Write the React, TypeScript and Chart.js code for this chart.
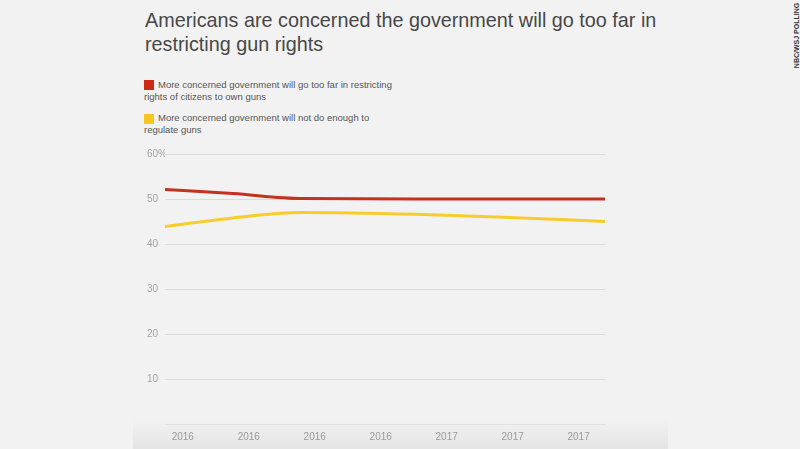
import React, { useEffect, useRef } from "react";
import { Chart, registerables } from "chart.js";

Chart.register(...registerables);

const titleLines = [
  "Americans are concerned the government will go too far in",
  "restricting gun rights",
];
const legendRed = ["More concerned government will go too far in restricting", "rights of citizens to own guns"];
const legendYellow = ["More concerned government will not do enough to", "regulate guns"];
const sourceText = "NBC/WSJ POLLING";

// x positions in label units (label i sits at i)
const pointX = [-0.27, 0.76, 1.81, 3.53, 4.94, 6.4];
const tooFarValues = [52.1, 51.2, 50.1, 50, 50, 50];
const notEnoughValues = [43.9, 45.8, 47.0, 46.6, 45.9, 45.0];
const xTickValues = [0, 1, 2, 3, 4, 5, 6];
const xTickLabels = ["2016", "2016", "2016", "2016", "2017", "2017", "2017"];
const yTickValues = [0, 10, 20, 30, 40, 50, 60];

const RED = "#c4311f";
const YELLOW = "#f7cd2b";

export default function App() {
  const canvasRef = useRef<HTMLCanvasElement | null>(null);

  useEffect(() => {
    const ctx = canvasRef.current;
    if (!ctx) return;
    const chart = new Chart(ctx, {
      type: "line",
      data: {
        datasets: [
          {
            label: legendRed.join(" "),
            data: pointX.map((x, i) => ({ x, y: tooFarValues[i] })),
            borderColor: RED,
            backgroundColor: RED,
            borderWidth: 3,
            pointRadius: 0,
            cubicInterpolationMode: "monotone",
          },
          {
            label: legendYellow.join(" "),
            data: pointX.map((x, i) => ({ x, y: notEnoughValues[i] })),
            borderColor: YELLOW,
            backgroundColor: YELLOW,
            borderWidth: 3,
            pointRadius: 0,
            cubicInterpolationMode: "monotone",
          },
        ],
      },
      options: {
        animation: false,
        responsive: false,
        maintainAspectRatio: false,
        layout: { padding: { left: 147, right: 195, top: 154, bottom: 0 } },
        plugins: { legend: { display: false }, tooltip: { enabled: false } },
        scales: {
          x: {
            type: "linear",
            min: -0.27,
            max: 6.4,
            afterBuildTicks: (s: any) => {
              s.ticks = xTickValues.map((v) => ({ value: v }));
            },
            afterFit: (s: any) => {
              s.height = 25;
            },
            grid: { display: false, drawTicks: false },
            border: { display: true, color: "#e0e0e0", width: 1 },
            ticks: {
              padding: 7,
              maxRotation: 0,
              autoSkip: false,
              color: "#9a9a9a",
              font: { family: "'Liberation Sans', Arial, sans-serif", size: 10 },
              callback: (_v: any, i: number) => xTickLabels[i],
            },
          },
          y: {
            min: 0,
            max: 60,
            afterBuildTicks: (s: any) => {
              s.ticks = yTickValues.map((v) => ({ value: v }));
            },
            afterFit: (s: any) => {
              s.width = 18;
            },
            grid: { color: "#dadada", lineWidth: 1, drawTicks: false },
            border: { display: false },
            ticks: {
              padding: 0,
              crossAlign: "far",
              color: "#a3a3a3",
              font: { family: "'Liberation Sans', Arial, sans-serif", size: 10 },
              callback: (v: any) => (v === 0 ? "" : v === 60 ? "60%" : String(v)),
            },
          },
        },
      },
    });
    return () => chart.destroy();
  }, []);

  const font = "'Liberation Sans', Arial, Helvetica, sans-serif";

  return (
    <div style={{ position: "relative", width: 800, height: 449, background: "#f2f2f2", overflow: "hidden", fontFamily: font }}>
      <style>{"body{margin:0;background:#f2f2f2}"}</style>
      <div
        style={{
          position: "absolute",
          left: 133,
          top: 420,
          width: 535,
          height: 29,
          background: "linear-gradient(#f2f2f2, #e4e4e4)",
        }}
      />
      <div
        style={{
          position: "absolute",
          left: 145,
          top: 8,
          fontSize: 19.8,
          lineHeight: "24px",
          color: "#474747",
          whiteSpace: "nowrap",
        }}
      >
        {titleLines[0]}
        <br />
        {titleLines[1]}
      </div>

      <div style={{ position: "absolute", left: 144, top: 80, width: 10, height: 10, background: "#cd2a16" }} />
      <div
        style={{
          position: "absolute",
          left: 144,
          top: 78.5,
          fontSize: 9.5,
          lineHeight: "12px",
          color: "#555",
          whiteSpace: "nowrap",
          textIndent: 14,
        }}
      >
        {legendRed[0]}
        <br />
        {legendRed[1]}
      </div>

      <div style={{ position: "absolute", left: 144, top: 114, width: 10, height: 10, background: "#fbc424" }} />
      <div
        style={{
          position: "absolute",
          left: 144,
          top: 112,
          fontSize: 9.5,
          lineHeight: "12px",
          color: "#555",
          whiteSpace: "nowrap",
          textIndent: 14,
        }}
      >
        {legendYellow[0]}
        <br />
        {legendYellow[1]}
      </div>

      <div
        style={{
          position: "absolute",
          left: 761,
          top: 30.5,
          width: 70,
          height: 9,
          lineHeight: "9px",
          fontSize: 7,
          fontWeight: 700,
          color: "#333",
          textAlign: "center",
          whiteSpace: "nowrap",
          transform: "rotate(-90deg)",
          transformOrigin: "center",
        }}
      >
        {sourceText}
      </div>

      <canvas ref={canvasRef} width={800} height={449} style={{ position: "absolute", left: 0, top: 0, width: 800, height: 449 }} />
    </div>
  );
}
